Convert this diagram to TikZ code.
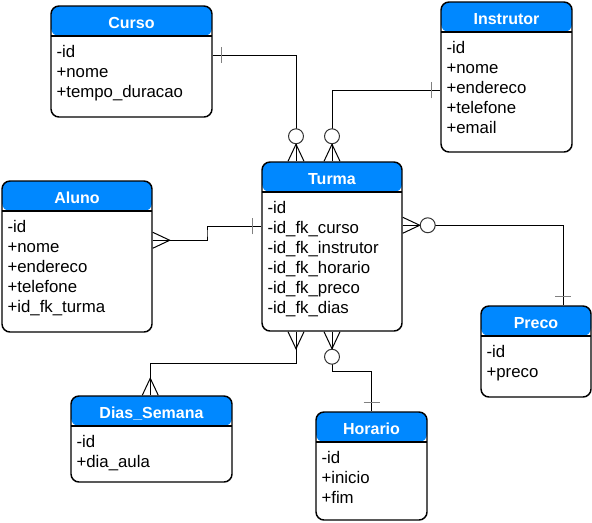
\documentclass[tikz,border=0pt]{standalone}
\usepackage{fontspec}
\setmainfont{Liberation Sans}
\usetikzlibrary{calc,fit}
\definecolor{erblue}{HTML}{0088FF}
\definecolor{tickgray}{HTML}{808080}
\tikzset{
    entity/.style={draw, line width=1.1pt, rounded corners=6pt, inner sep=0pt,
        path picture={
            \fill[erblue] (path picture bounding box.north west) rectangle ([yshift=-22.5pt]path picture bounding box.north east);
            \draw[line width=1.1pt] ([yshift=-22.5pt]path picture bounding box.north west) -- ([yshift=-22.5pt]path picture bounding box.north east);
        }},
    tablehead/.style={font=\fontsize{12}{14}\selectfont\bfseries, text=white, anchor=base, inner sep=0pt},
    tablerow/.style={font=\fontsize{12.6}{14}\selectfont, anchor=base west, inner sep=0pt},
    rel/.style={line width=0.75pt},
    many/.pic={\draw[line width=0.75pt] (0,-8) -- (17,0) -- (0,8);},
    zero/.pic={\draw[line width=0.75pt, draw=black!80, fill=white] (25,0) circle (5.6pt);},
    one/.pic={\draw[line width=1pt, tickgray] (8.5,-8) -- (8.5,8);}
}
\begin{document}
\begin{tikzpicture}[x=0.75pt, y=-0.75pt]
    \useasboundingbox (0,0) rectangle (592,522);

    % Curso
    \node[entity, fit={(51,6) (212,117)}] (curso) {};
    \node[tablehead] (curso-head) at ($(curso.north)+(0,23)$) {Curso};
    \foreach \t [count=\i] in {-id, +nome, +tempo\_duracao}
        \node[tablerow] (curso-\i) at ($(curso.north west)+(6,{32.5+20*\i})$) {\t};

    % Instrutor
    \node[entity, fit={(441,2) (572,152)}] (instrutor) {};
    \node[tablehead] (instrutor-head) at ($(instrutor.north)+(0,23)$) {Instrutor};
    \foreach \t [count=\i] in {-id, +nome, +endereco, +telefone, +email}
        \node[tablerow] (instrutor-\i) at ($(instrutor.north west)+(6,{32.5+20*\i})$) {\t};

    % Turma
    \node[entity, fit={(262,162) (402,331)}] (turma) {};
    \node[tablehead] (turma-head) at ($(turma.north)+(0,23)$) {Turma};
    \foreach \t [count=\i] in {-id, -id\_fk\_curso, -id\_fk\_instrutor, -id\_fk\_horario, -id\_fk\_preco, -id\_fk\_dias}
        \node[tablerow] (turma-\i) at ($(turma.north west)+(6,{32.5+20*\i})$) {\t};

    % Aluno
    \node[entity, fit={(2,181) (152,332)}] (aluno) {};
    \node[tablehead] (aluno-head) at ($(aluno.north)+(0,23)$) {Aluno};
    \foreach \t [count=\i] in {-id, +nome, +endereco, +telefone, +id\_fk\_turma}
        \node[tablerow] (aluno-\i) at ($(aluno.north west)+(6,{32.5+20*\i})$) {\t};

    % Preco
    \node[entity, fit={(481,306) (591,397)}] (preco) {};
    \node[tablehead] (preco-head) at ($(preco.north)+(0,23)$) {Preco};
    \foreach \t [count=\i] in {-id, +preco}
        \node[tablerow] (preco-\i) at ($(preco.north west)+(6,{32.5+20*\i})$) {\t};

    % Dias_Semana
    \node[entity, fit={(71,396) (232,482)}] (dias) {};
    \node[tablehead] (dias-head) at ($(dias.north)+(0,23)$) {Dias\_Semana};
    \foreach \t [count=\i] in {-id, +dia\_aula}
        \node[tablerow] (dias-\i) at ($(dias.north west)+(6,{32.5+20*\i})$) {\t};

    % Horario
    \node[entity, fit={(316,412) (427,520)}] (horario) {};
    \node[tablehead] (horario-head) at ($(horario.north)+(0,23)$) {Horario};
    \foreach \t [count=\i] in {-id, +inicio, +fim}
        \node[tablerow] (horario-\i) at ($(horario.north west)+(6,{32.5+20*\i})$) {\t};

    % relationships
    \coordinate (c1) at ($(curso.north east)+(0,50)$);
    \coordinate (t1) at ($(turma.north)+(-36,0)$);
    \draw[rel] (c1) -| (t1);
    \coordinate (i1) at ($(instrutor.north west)+(0,89)$);
    \draw[rel] (i1) -| (turma.north);
    \coordinate (a1) at ($(aluno.north east)+(0,60)$);
    \coordinate (t2) at ($(turma.north west)+(0,65)$);
    \draw[rel] (a1) -| ($(a1)!0.5!(t2)$) |- (t2);
    \coordinate (t3) at ($(turma.north east)+(0,64)$);
    \coordinate (p1) at ($(preco.north west)+(83,0)$);
    \draw[rel] (t3) -| (p1);
    \coordinate (t4) at ($(turma.south)+(-36,0)$);
    \coordinate (d1) at ($(dias.north west)+(80,0)$);
    \draw[rel] (t4) |- ($(t4)!0.5!(d1)$) -| (d1);
    \draw[rel] (turma.south) |- ($(turma.south)!0.5!(horario.north)$) -| (horario.north);

    % cardinality marks
    \pic at (c1) {one};
    \pic[rotate=90] at (t1) {many};
    \pic[rotate=90] at (t1) {zero};
    \pic[rotate=180] at (i1) {one};
    \pic[rotate=90] at (turma.north) {many};
    \pic[rotate=90] at (turma.north) {zero};
    \pic at (a1) {many};
    \pic[rotate=180] at (t2) {one};
    \pic at (t3) {many};
    \pic at (t3) {zero};
    \pic[rotate=90] at (p1) {one};
    \pic[rotate=-90] at (t4) {many};
    \pic[rotate=90] at (d1) {many};
    \pic[rotate=-90] at (turma.south) {many};
    \pic[rotate=-90] at (turma.south) {zero};
    \pic[rotate=90] at (horario.north) {one};
\end{tikzpicture}
\end{document}
